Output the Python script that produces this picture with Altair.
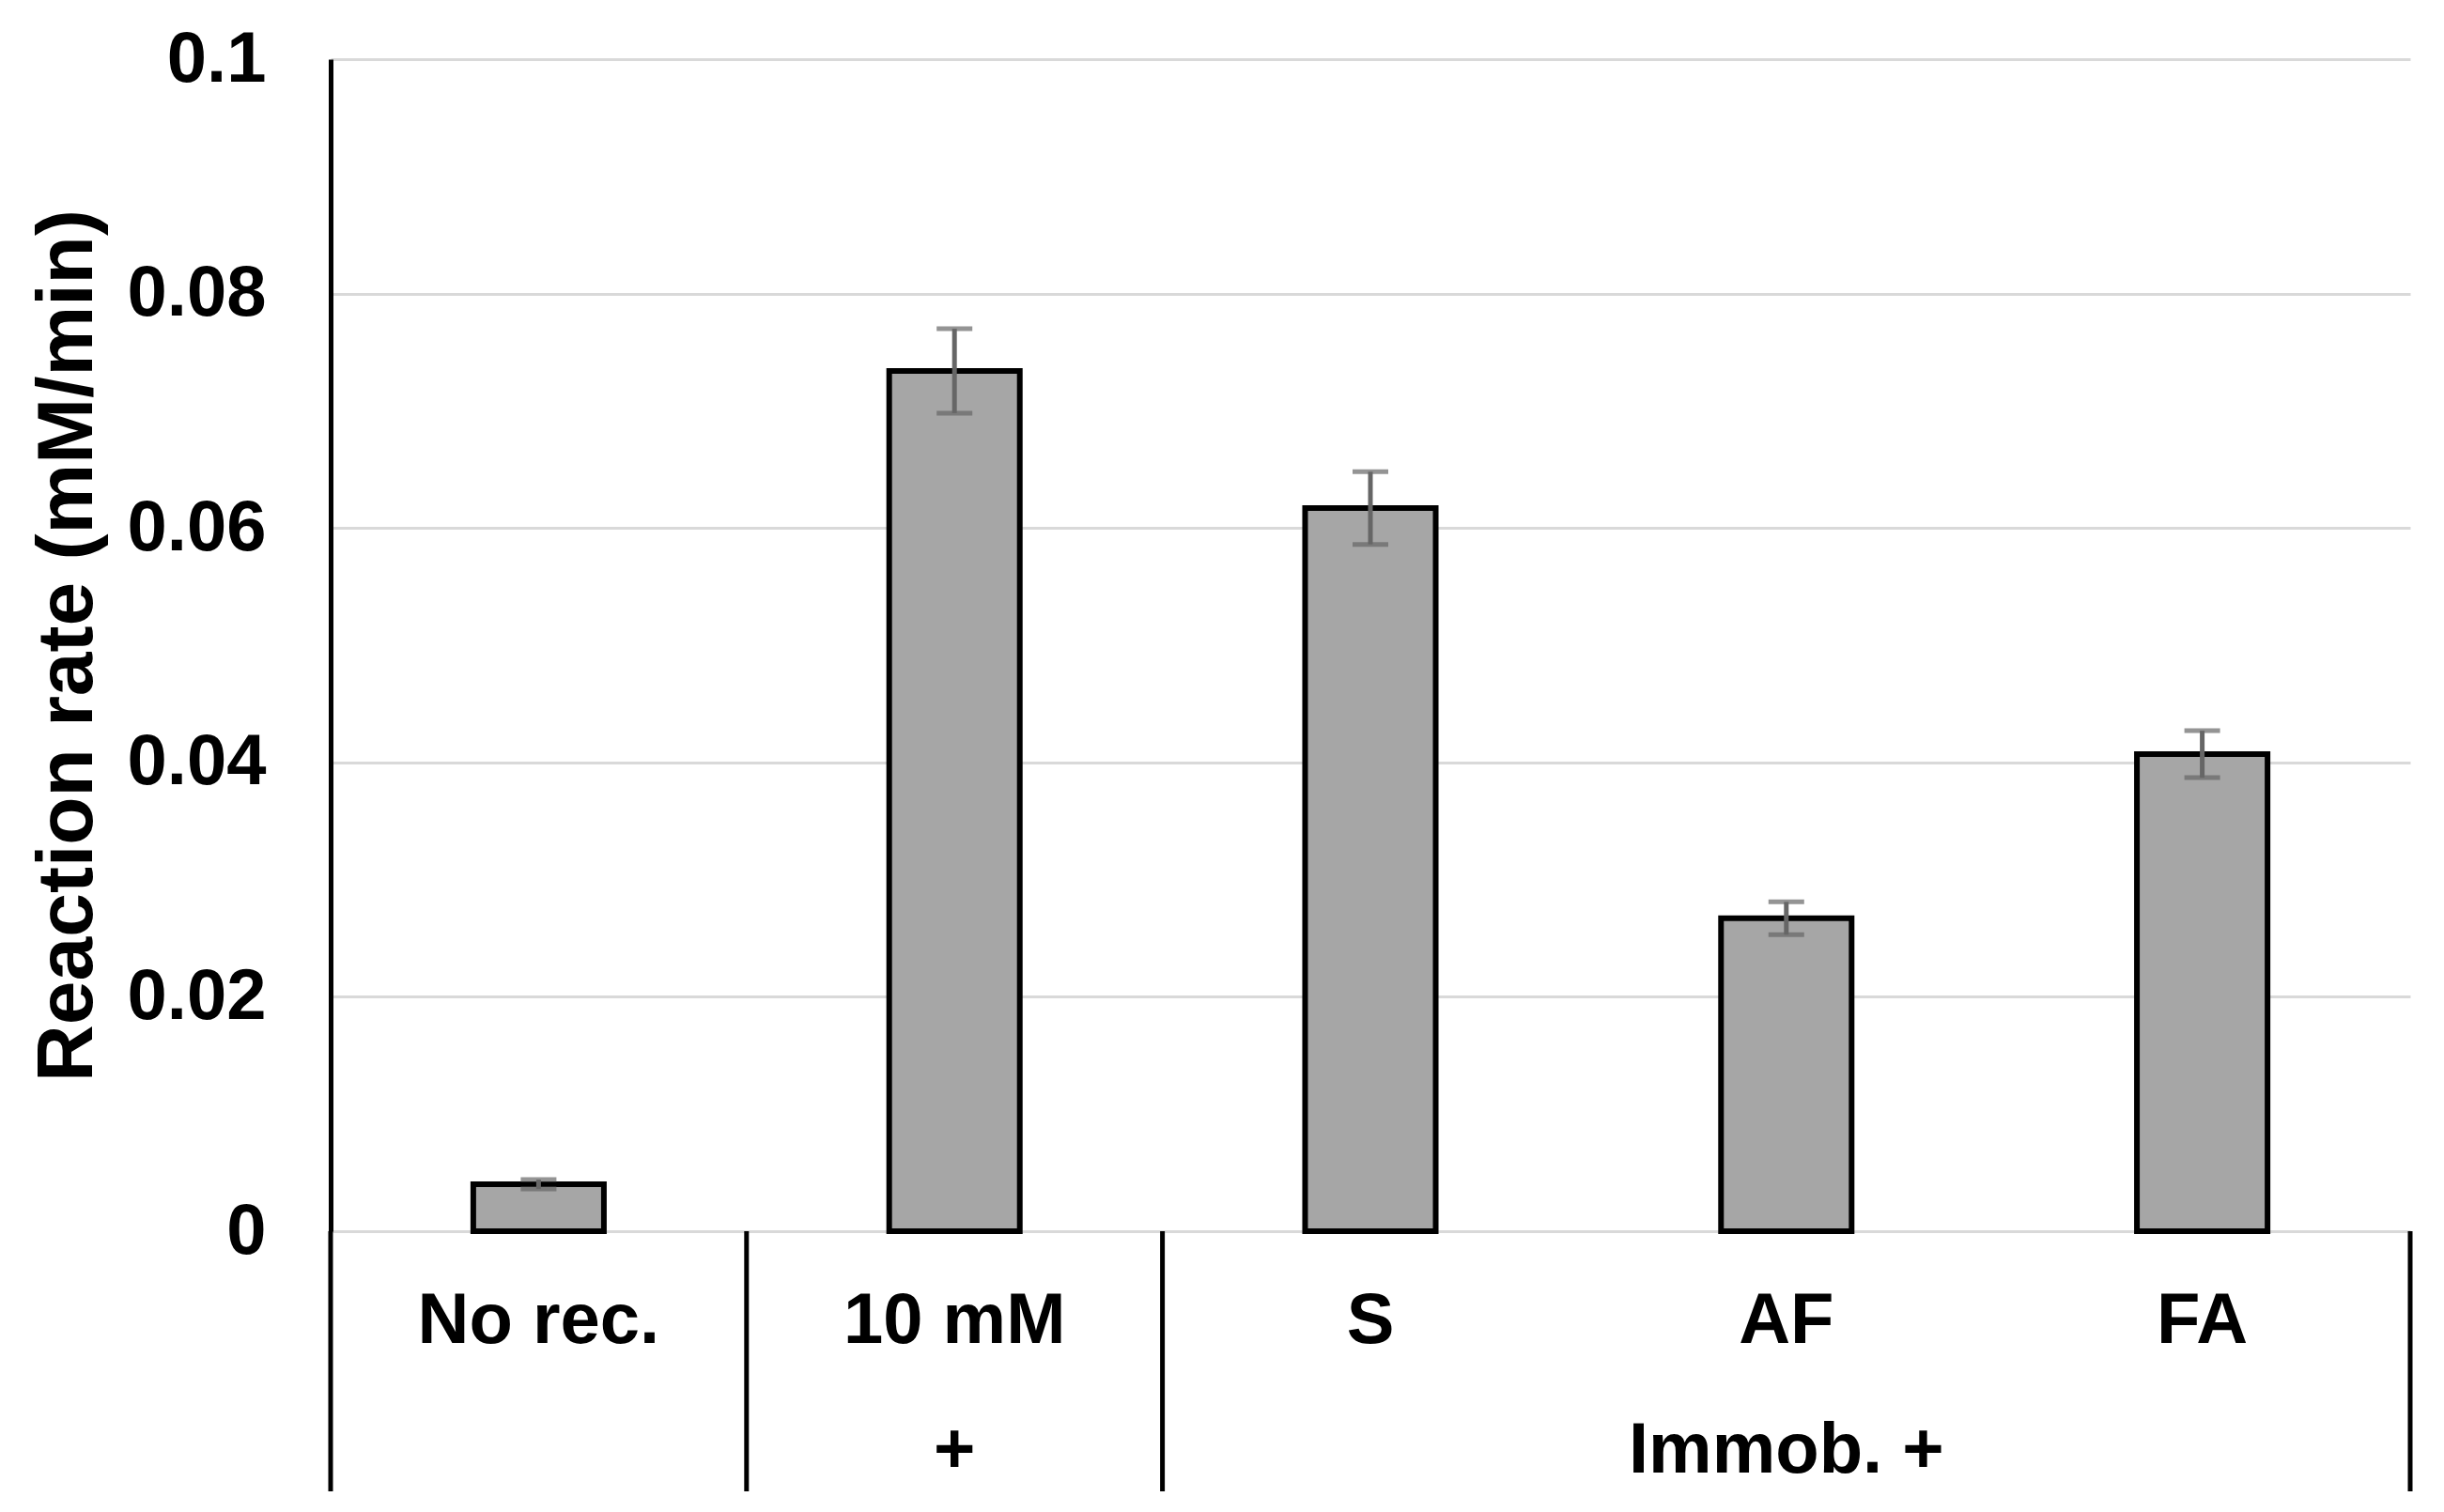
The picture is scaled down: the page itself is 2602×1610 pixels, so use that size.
import altair as alt
import pandas as pd

# ---- data ----
categories = ["No rec.", "10 mM", "S", "AF", "FA"]
rates = [0.0040, 0.0734, 0.0617, 0.0267, 0.0407]
errors = [0.0004, 0.0036, 0.0031, 0.0014, 0.0020]
group_labels = ["", "+", "Immob. +"]
group_members = [["No rec."], ["10 mM"], ["S", "AF", "FA"]]
y_ticks = [0, 0.02, 0.04, 0.06, 0.08, 0.1]

df = pd.DataFrame({"cat": categories, "rate": rates, "err": errors})
df["lo"] = df["rate"] - df["err"]
df["hi"] = df["rate"] + df["err"]

groups = pd.DataFrame({"label": group_labels,
                       "cat": [m[len(m) // 2] for m in group_members]})
sep_start = pd.DataFrame({"cat": [m[0] for m in group_members]})
sep_end = pd.DataFrame({"cat": [group_members[-1][-1]]})

W, H = 2214, 1248
FONT = "Liberation Sans"
LBL = 76

xscale = alt.Scale(domain=categories, paddingInner=0, paddingOuter=0)
yscale = alt.Scale(domain=[0, 0.1], nice=False, zero=True)

yaxis = alt.Axis(values=y_ticks, format="~g", domain=True, domainColor="black",
                 domainWidth=5, grid=True, gridColor="#d9d9d9", gridWidth=3,
                 ticks=False, tickSize=0, labelFont=FONT, labelFontSize=LBL,
                 labelFontWeight="bold", labelColor="black", labelPadding=69,
                 title="Reaction rate (mM/min)", titleFont=FONT, titleFontSize=84,
                 titleFontWeight="bold", titleColor="black", titleAngle=270,
                 titleX=-255, titleY=H / 2, titleAlign="center",
                 titleBaseline="alphabetic")

xaxis = alt.Axis(labels=False, ticks=False, title=None, domain=True,
                 domainColor="black", domainWidth=5, grid=False)

bars = alt.Chart(df).mark_bar(
    width=alt.RelativeBandSize(0.314), fill="#a6a6a6", stroke="black", strokeWidth=6
).encode(
    x=alt.X("cat:N", scale=xscale, sort=categories, axis=xaxis),
    y=alt.Y("rate:Q", scale=yscale, axis=yaxis),
)

err_rule = alt.Chart(df).mark_rule(color="#666666", strokeWidth=5).encode(
    x=alt.X("cat:N", sort=categories, axis=None),
    y=alt.Y("lo:Q"),
    y2="hi:Q",
)
cap_lo = alt.Chart(df).mark_tick(color="#666666", orient="horizontal", size=38,
                                 thickness=5).encode(
    x=alt.X("cat:N", sort=categories, axis=None), y=alt.Y("lo:Q"))
cap_hi = alt.Chart(df).mark_tick(color="#666666", orient="horizontal", size=38,
                                 thickness=5).encode(
    x=alt.X("cat:N", sort=categories, axis=None), y=alt.Y("hi:Q"))

sep1 = alt.Chart(sep_start).mark_rule(color="black", strokeWidth=5).encode(
    x=alt.X("cat:N", sort=categories, axis=None, bandPosition=0),
    y=alt.YDatum(0),
    y2=alt.value(1525),
)
sep2 = alt.Chart(sep_end).mark_rule(color="black", strokeWidth=5).encode(
    x=alt.X("cat:N", sort=categories, axis=None, bandPosition=1),
    y=alt.YDatum(0),
    y2=alt.value(1525),
)

row1 = alt.Chart(df).mark_text(font=FONT, fontSize=LBL, fontWeight="bold",
                               baseline="alphabetic", align="center",
                               color="black").encode(
    x=alt.X("cat:N", sort=categories, axis=None),
    y=alt.value(1367),
    text="cat:N",
)
row2 = alt.Chart(groups).mark_text(font=FONT, fontSize=LBL, fontWeight="bold",
                                   baseline="alphabetic", align="center",
                                   color="black").encode(
    x=alt.X("cat:N", sort=categories, axis=None),
    y=alt.value(1505),
    text="label:N",
)

chart = alt.layer(bars, err_rule, cap_lo, cap_hi, sep1, sep2, row1, row2).properties(
    width=W, height=H,
    padding={"left": 344, "top": 55, "right": 28, "bottom": 280},
    autosize=alt.AutoSizeParams(type="none"),
    background="white",
).configure_view(stroke=None)

chart.save("out.html", embed_options={"renderer": "svg", "actions": False})
